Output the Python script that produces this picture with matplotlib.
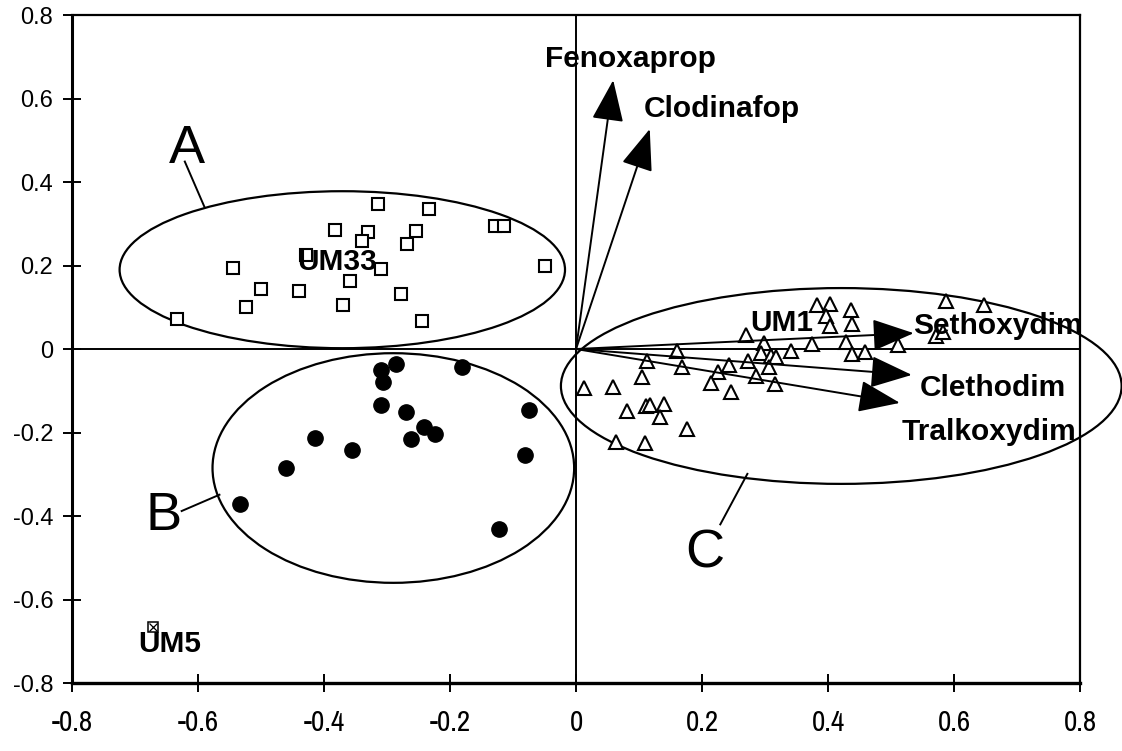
import matplotlib
matplotlib.use("Agg")
import matplotlib.pyplot as plt
from matplotlib.patches import Ellipse
from matplotlib import font_manager

plt.rcParams['font.family'] = ['Liberation Sans', 'DejaVu Sans']

# ---- data ----
# Group A (open squares)
a_x = [-0.314, -0.234, -0.382, -0.330, -0.254, -0.128, -0.114, -0.339, -0.268, -0.544,
       -0.050, -0.310, -0.358, -0.500, -0.439, -0.278, -0.524, -0.370, -0.245, -0.633, -0.429]
a_y = [0.347, 0.335, 0.285, 0.280, 0.283, 0.295, 0.295, 0.258, 0.251, 0.195,
       0.199, 0.191, 0.163, 0.144, 0.140, 0.132, 0.100, 0.106, 0.068, 0.072, 0.225]

# Group B (filled circles)
b_x = [-0.285, -0.310, -0.181, -0.307, -0.310, -0.270, -0.075, -0.242, -0.224, -0.262,
       -0.415, -0.355, -0.081, -0.461, -0.533, -0.122]
b_y = [-0.036, -0.050, -0.044, -0.080, -0.133, -0.152, -0.145, -0.187, -0.203, -0.215,
       -0.212, -0.243, -0.253, -0.285, -0.372, -0.432]

# Group C (open triangles)
c_x = [0.013, 0.059, 0.113, 0.104, 0.161, 0.168, 0.081, 0.111, 0.117, 0.139,
       0.134, 0.176, 0.064, 0.110, 0.225, 0.214, 0.243, 0.246, 0.270, 0.273,
       0.298, 0.293, 0.285, 0.309, 0.318, 0.307, 0.316, 0.342, 0.374, 0.383,
       0.403, 0.397, 0.403, 0.436, 0.438, 0.429, 0.438, 0.458, 0.511, 0.588,
       0.648, 0.572, 0.583]
c_y = [-0.093, -0.092, -0.028, -0.068, -0.004, -0.044, -0.149, -0.137, -0.133, -0.132,
       -0.163, -0.191, -0.222, -0.225, -0.055, -0.081, -0.038, -0.103, 0.033, -0.028,
       0.014, -0.010, -0.065, -0.017, -0.020, -0.044, -0.084, -0.004, 0.011, 0.106,
       0.108, 0.078, 0.056, 0.094, 0.061, 0.016, -0.011, -0.006, 0.010, 0.114,
       0.106, 0.032, 0.040]

# Outlier UM5
um5_x = [-0.672]
um5_y = [-0.666]

# Herbicide vectors
herbicides = ["Fenoxaprop", "Clodinafop", "Sethoxydim", "Clethodim", "Tralkoxydim"]
vec_x = [0.059, 0.117, 0.536, 0.533, 0.514]
vec_y = [0.644, 0.527, 0.038, -0.062, -0.129]

x_ticks = [-0.8, -0.6, -0.4, -0.2, 0, 0.2, 0.4, 0.6, 0.8]
y_ticks = [-0.8, -0.6, -0.4, -0.2, 0, 0.2, 0.4, 0.6, 0.8]
tick_labels = ["-0.8", "-0.6", "-0.4", "-0.2", "0", "0.2", "0.4", "0.6", "0.8"]

# ---- figure ----
fig = plt.figure(figsize=(11.22, 7.51), dpi=100)
ax = fig.add_axes([0.0642, 0.0905, 0.8984, 0.8895])
ax.set_xlim(-0.8, 0.8)
ax.set_ylim(-0.8, 0.8)

ax.axhline(0, color='black', lw=1.4, zorder=1)
ax.axvline(0, color='black', lw=1.4, zorder=1)

ax.plot(a_x, a_y, linestyle='none', marker='s', ms=9, mfc='white', mec='black', mew=1.5, zorder=3)
ax.plot(b_x, b_y, linestyle='none', marker='o', ms=11, mfc='black', mec='black', zorder=3)
ax.plot(c_x, c_y, linestyle='none', marker='^', ms=10.5, mfc='white', mec='black', mew=1.5, zorder=3)
ax.plot(um5_x, um5_y, linestyle='none', marker='s', ms=7.5, mfc='white', mec='black', mew=1.1, zorder=3)
ax.plot(um5_x, um5_y, linestyle='none', marker='x', ms=6, mec='black', mew=0.9, zorder=3)

# vectors
for name, vx, vy in zip(herbicides, vec_x, vec_y):
    ax.annotate("", xy=(vx, vy), xytext=(0, 0),
                arrowprops=dict(arrowstyle="-|>,head_length=1.3,head_width=0.5",
                                mutation_scale=20, color='black', lw=1.4,
                                shrinkA=0, shrinkB=0), zorder=4)

lab_font = dict(fontsize=21.5, fontweight='bold', color='black', ha='center', va='baseline', zorder=5)
ax.text(0.087, 0.675, "Fenoxaprop", **lab_font)
ax.text(0.232, 0.555, "Clodinafop", **lab_font)
ax.text(0.669, 0.036, "Sethoxydim", **lab_font)
ax.text(0.661, -0.112, "Clethodim", **lab_font)
ax.text(0.655, -0.219, "Tralkoxydim", **lab_font)
ax.text(-0.379, 0.190, "UM33", **lab_font)
ax.text(0.326, 0.043, "UM1", **lab_font)
ax.text(-0.645, -0.725, "UM5", **lab_font)

# group ellipses
for (cx, cy, w, h) in [(-0.371, 0.190, 0.707, 0.376),
                       (-0.290, -0.285, 0.574, 0.550),
                       (0.421, -0.0885, 0.890, 0.469)]:
    ax.add_patch(Ellipse((cx, cy), w, h, fill=False, ec='black', lw=1.6, clip_on=False, zorder=2))

big = dict(fontsize=39, color='black', ha='center', va='center')
ax.text(-0.618, 0.480, "A", **big)
ax.text(-0.655, -0.400, "B", **big)
ax.text(0.205, -0.490, "C", **big)
ax.plot([-0.621, -0.590], [0.449, 0.341], color='black', lw=1.4)
ax.plot([-0.626, -0.566], [-0.388, -0.349], color='black', lw=1.4)
ax.plot([0.229, 0.272], [-0.420, -0.299], color='black', lw=1.4)

# axes styling
ax.set_xticks(x_ticks)
ax.set_xticklabels(tick_labels)
ax.set_yticks(y_ticks)
ax.set_yticklabels(tick_labels)
ax.spines['left'].set_linewidth(2.2)
ax.spines['bottom'].set_linewidth(2.4)
ax.spines['top'].set_linewidth(1.6)
ax.spines['right'].set_linewidth(1.6)
ax.tick_params(axis='both', direction='inout', length=13, width=1.4, color='black')
ax.tick_params(axis='y', pad=7, labelsize=17)
ax.tick_params(axis='x', pad=12, labelsize=19)

narrow = None
for f in font_manager.fontManager.ttflist:
    if 'Narrow' in f.name:
        narrow = f.name
        break
for lab in ax.get_xticklabels():
    if narrow:
        lab.set_family([narrow, 'Liberation Sans'])
        lab.set_fontsize(21)

fig.savefig("out.png", dpi=100)
